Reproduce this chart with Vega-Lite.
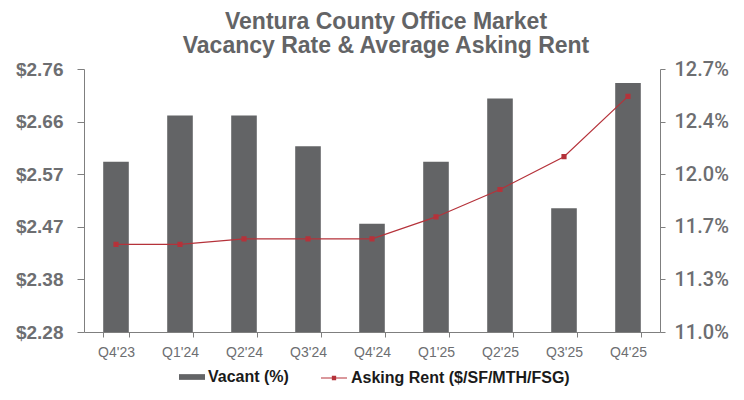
{
  "$schema": "https://vega.github.io/schema/vega-lite/v6.json",
  "width": 576,
  "height": 263,
  "autosize": "none",
  "padding": {"left": 84, "top": 69, "right": 84, "bottom": 68},
  "background": "white",
  "title": {
    "text": ["Ventura County Office Market", "Vacancy Rate & Average Asking Rent"],
    "font": "Liberation Sans",
    "fontSize": 23,
    "fontWeight": "bold",
    "color": "#636466",
    "lineHeight": 24,
    "anchor": "middle",
    "dx": 14,
    "offset": 0,
    "dy": -1
  },
  "config": {"view": {"stroke": null}},
  "data": {
    "values": [
      {"quarter": "Q4'23", "vacancy": 12.1, "rent": 2.44},
      {"quarter": "Q1'24", "vacancy": 12.4, "rent": 2.44},
      {"quarter": "Q2'24", "vacancy": 12.4, "rent": 2.45},
      {"quarter": "Q3'24", "vacancy": 12.2, "rent": 2.45},
      {"quarter": "Q4'24", "vacancy": 11.7, "rent": 2.45},
      {"quarter": "Q1'25", "vacancy": 12.1, "rent": 2.49},
      {"quarter": "Q2'25", "vacancy": 12.51, "rent": 2.54},
      {"quarter": "Q3'25", "vacancy": 11.8, "rent": 2.6},
      {"quarter": "Q4'25", "vacancy": 12.61, "rent": 2.71}
    ]
  },
  "encoding": {
    "x": {
      "field": "quarter",
      "type": "ordinal",
      "sort": null,
      "title": null,
      "scale": {"paddingInner": 0.6, "paddingOuter": 0.3},
      "axis": {
        "labelAngle": 0,
        "tickBand": "extent",
        "domainColor": "#7f7f7f",
        "tickColor": "#7f7f7f",
        "tickSize": 5,
        "labelFont": "Liberation Sans",
        "labelFontSize": 14,
        "labelColor": "#6d6e71",
        "labelPadding": 8,
        "grid": false
      }
    }
  },
  "layer": [
    {
      "mark": {"type": "bar"},
      "encoding": {
        "y": {
          "field": "vacancy",
          "type": "quantitative",
          "title": null,
          "scale": {"domain": [11, 12.7], "zero": false, "nice": false},
          "axis": {
            "orient": "right",
            "values": [11, 11.34, 11.68, 12.02, 12.36, 12.7],
            "labelExpr": "format(datum.value, '.1f') + '%'",
            "grid": false,
            "domainColor": "#7f7f7f",
            "tickColor": "#7f7f7f",
            "tickSize": 5,
            "labelFont": "Roboto",
            "labelFontSize": 20,
            "labelFontWeight": 500,
            "labelColor": "#6d6e71",
            "labelPadding": 9
          }
        },
        "y2": {"datum": 11},
        "fill": {
          "datum": "Vacant (%)",
          "scale": {"range": ["#636466"]},
          "legend": {
            "orient": "none",
            "legendX": 95,
            "legendY": 295,
            "title": null,
            "padding": 0,
            "symbolType": "M-1,-0.22H1V0.22H-1Z",
            "symbolSize": 676,
            "symbolStrokeWidth": 0,
            "labelFont": "Liberation Sans",
            "labelFontSize": 16,
            "labelFontWeight": "bold",
            "labelColor": "#1a1a1a",
            "labelOffset": 3,
            "labelLimit": 0
          }
        }
      }
    },
    {
      "mark": {
        "type": "line",
        "strokeWidth": 1.2,
        "point": {"shape": "square", "size": 10, "filled": true, "fill": "#b5323a"}
      },
      "encoding": {
        "y": {
          "field": "rent",
          "type": "quantitative",
          "title": null,
          "scale": {"domain": [2.28, 2.76], "zero": false, "nice": false},
          "axis": {
            "orient": "left",
            "values": [2.28, 2.376, 2.472, 2.568, 2.664, 2.76],
            "labelExpr": "'$' + format(datum.value, '.2f')",
            "grid": false,
            "domainColor": "#7f7f7f",
            "tickColor": "#7f7f7f",
            "tickSize": 7,
            "labelFont": "Liberation Sans",
            "labelFontSize": 19,
            "labelFontWeight": "bold",
            "labelColor": "#6d6e71",
            "labelPadding": 14
          }
        },
        "stroke": {
          "datum": "Asking Rent ($/SF/MTH/FSG)",
          "scale": {"range": ["#b5323a"]},
          "legend": {
            "orient": "none",
            "legendX": 236,
            "legendY": 295,
            "title": null,
            "padding": 0,
            "symbolType": "M-1,0H1M-0.12,-0.12H0.12V0.12H-0.12Z",
            "symbolSize": 676,
            "symbolStrokeWidth": 1.2,
            "symbolFillColor": "#b5323a",
            "labelFont": "Liberation Sans",
            "labelFontSize": 16,
            "labelFontWeight": "bold",
            "labelColor": "#1a1a1a",
            "labelOffset": 3,
            "labelLimit": 0
          }
        }
      }
    }
  ],
  "resolve": {"scale": {"y": "independent", "fill": "independent", "stroke": "independent"}}
}
